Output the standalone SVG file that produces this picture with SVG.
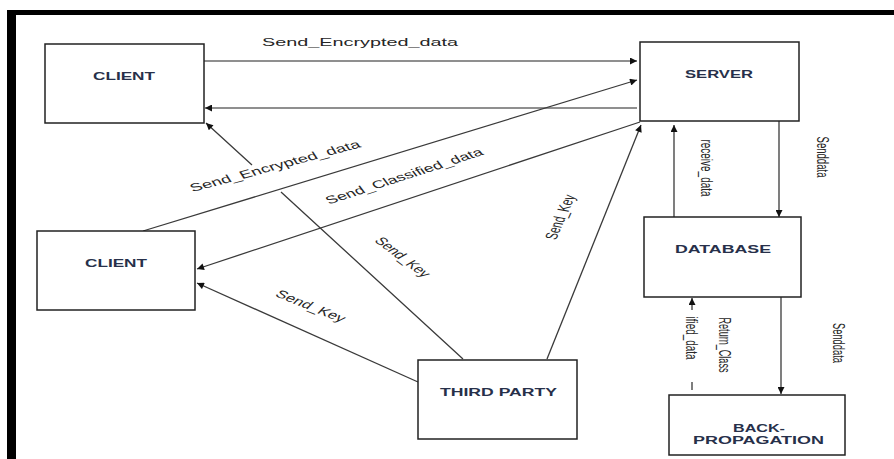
<svg xmlns="http://www.w3.org/2000/svg" width="894" height="459" viewBox="0 0 894 459">
  <defs>
    <marker id="ah" viewBox="0 0 10 10" refX="10" refY="5" markerWidth="9" markerHeight="7" markerUnits="userSpaceOnUse" orient="auto">
      <path d="M0,0 L10,5 L0,10 z" fill="#111"/>
    </marker>
    <style>
      .box { fill: #ffffff; stroke: #222; stroke-width: 1.5; }
      .name { font-family: "Liberation Sans", Arial, sans-serif; font-weight: bold; font-size: 11px; fill: #27304a; text-anchor: middle; }
      .conn { fill: none; stroke: #3a3a3a; stroke-width: 1.3; }
      .hconn { fill: none; stroke: #6a6a6a; stroke-width: 1.6; }
      .lbl { font-family: "Liberation Sans", Arial, sans-serif; font-size: 11px; fill: #262626; text-anchor: middle; dominant-baseline: central; }
    </style>
  </defs>
  <rect x="0" y="0" width="894" height="459" fill="#ffffff"/>
  <g id="frame">
    <rect x="7" y="10" width="887" height="5" fill="#000"/>
    <rect x="7" y="10" width="9" height="449" fill="#000"/>
  </g>

  <g id="connectors">
    <path class="hconn" d="M204,61 L637,61" marker-end="url(#ah)"/>
    <path class="hconn" d="M637,108 L205,108" marker-end="url(#ah)"/>
    <path class="conn" d="M143,231 L637,80" marker-end="url(#ah)"/>
    <path class="conn" d="M640,122 L197,269" marker-end="url(#ah)"/>
    <path class="conn" d="M463,359 L281,192 M252,165 L206,123" marker-end="url(#ah)"/>
    <path class="conn" d="M418,382 L197,283" marker-end="url(#ah)"/>
    <path class="conn" d="M547,359 L641,125" marker-end="url(#ah)"/>
    <path class="conn" d="M779,121 L779,217" marker-end="url(#ah)"/>
    <path class="conn" d="M674,217 L674,125" marker-end="url(#ah)"/>
    <path class="conn" d="M781,297 L781,394" marker-end="url(#ah)"/>
    <path class="conn" d="M692,390 L692,382 M692,310 L692,298" marker-end="url(#ah)"/>

    <text class="lbl" x="360" y="42" textLength="196" lengthAdjust="spacingAndGlyphs" font-size="12">Send_Encrypted_data</text>
    <text class="lbl" transform="translate(275,166) scale(1.55,1) rotate(-22.5)" textLength="118" lengthAdjust="spacingAndGlyphs">Send_Encrypted_data</text>
    <text class="lbl" transform="translate(404,176) scale(1.55,1) rotate(-26.5)" textLength="112" lengthAdjust="spacingAndGlyphs">Send_Classified_data</text>
    <text class="lbl" transform="translate(311,306) scale(1.55,1) rotate(32)" textLength="51" lengthAdjust="spacingAndGlyphs">Send_Key</text>
    <text class="lbl" transform="translate(403,257) scale(1.55,1) rotate(49.4)" textLength="49" lengthAdjust="spacingAndGlyphs">Send_Key</text>
    <text class="lbl" transform="translate(560,217) scale(1.55,1) rotate(-74)" textLength="46" lengthAdjust="spacingAndGlyphs">Send_Key</text>
    <text class="lbl" font-size="10" transform="translate(707,168) scale(1.55,1) rotate(90)" textLength="57" lengthAdjust="spacingAndGlyphs">receive_data</text>
    <text class="lbl" font-size="10" transform="translate(823,157) scale(1.55,1) rotate(90)" textLength="41" lengthAdjust="spacingAndGlyphs">Senddata</text>
    <text class="lbl" font-size="10" transform="translate(839,343) scale(1.55,1) rotate(90)" textLength="40" lengthAdjust="spacingAndGlyphs">Senddata</text>
    <text class="lbl" font-size="10" transform="translate(725,345) scale(1.55,1) rotate(90)" textLength="55" lengthAdjust="spacingAndGlyphs">Return_Class</text>
    <text class="lbl" font-size="10" transform="translate(692,338) scale(1.55,1) rotate(90)" textLength="43" lengthAdjust="spacingAndGlyphs">ified_data</text>
  </g>

  <g id="client1">
    <rect class="box" x="45" y="44" width="159" height="79"/>
    <text class="name" x="124" y="80" textLength="62" lengthAdjust="spacingAndGlyphs">CLIENT</text>
  </g>
  <g id="server">
    <rect class="box" x="640" y="42" width="159" height="79"/>
    <text class="name" x="719" y="78" textLength="68" lengthAdjust="spacingAndGlyphs">SERVER</text>
  </g>
  <g id="client2">
    <rect class="box" x="37" y="231" width="158" height="79"/>
    <text class="name" x="116" y="267" textLength="62" lengthAdjust="spacingAndGlyphs">CLIENT</text>
  </g>
  <g id="database">
    <rect class="box" x="644" y="217" width="157" height="80"/>
    <text class="name" x="723" y="253" textLength="96" lengthAdjust="spacingAndGlyphs">DATABASE</text>
  </g>
  <g id="third-party">
    <rect class="box" x="418" y="360" width="159" height="79"/>
    <text class="name" x="498.5" y="396" textLength="117" lengthAdjust="spacingAndGlyphs">THIRD PARTY</text>
  </g>
  <g id="back-propagation">
    <rect class="box" x="669" y="395" width="176" height="60"/>
    <text class="name" x="759" y="432" textLength="52" lengthAdjust="spacingAndGlyphs">BACK-</text>
    <text class="name" x="758.5" y="444" textLength="131" lengthAdjust="spacingAndGlyphs">PROPAGATION</text>
  </g>
</svg>
